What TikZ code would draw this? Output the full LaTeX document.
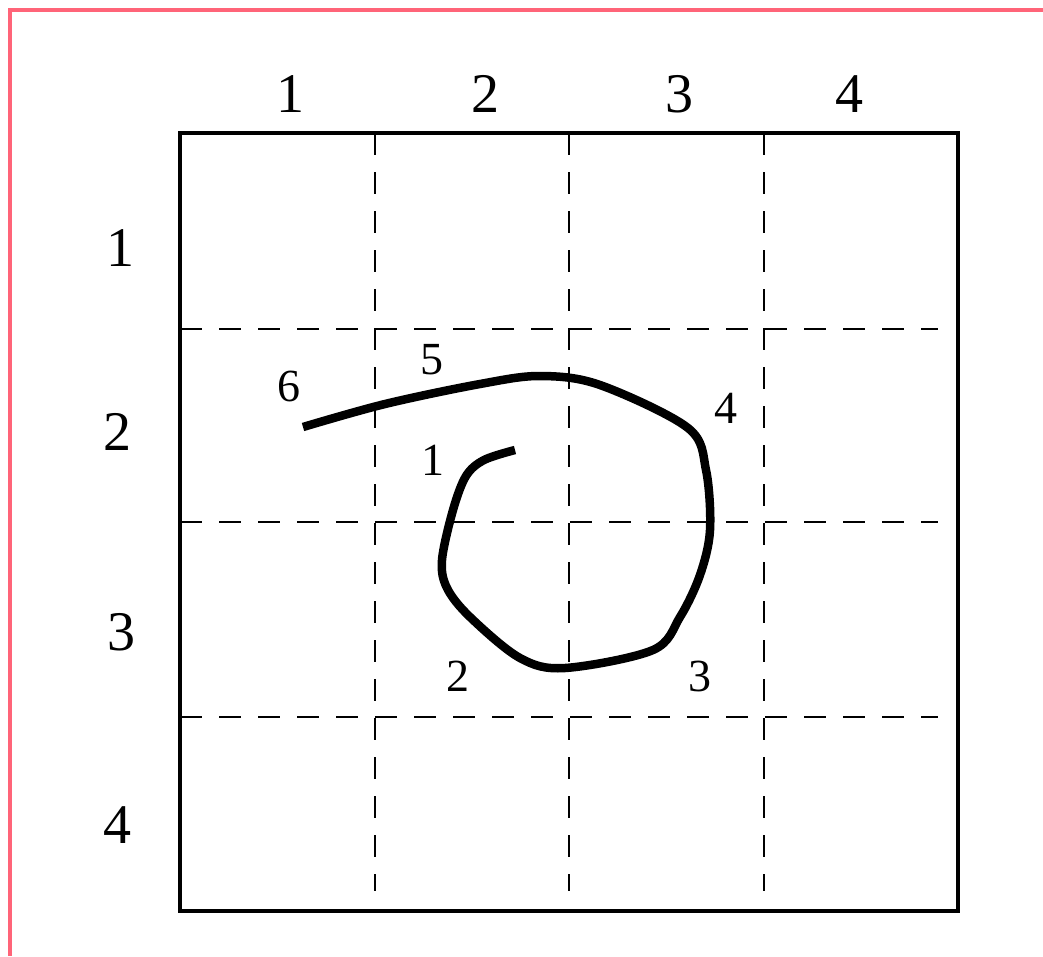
\documentclass[tikz,border=0pt]{standalone}
\usepackage{fontspec}
\setmainfont{Liberation Serif}
\begin{document}
\begin{tikzpicture}[x=1pt,y=-1pt,
  biglbl/.style={inner sep=0pt,font=\fontsize{56}{60}\selectfont},
  smalllbl/.style={inner sep=0pt,font=\fontsize{46}{50}\selectfont},
  gridline/.style={line width=2.5pt,dash pattern=on 22pt off 17pt},
  frameline/.style={line width=4.5pt},
  stroke/.style={line width=8.5pt,line cap=butt,line join=round}]
\useasboundingbox (0,0) rectangle (1043,956);
% pink page border
\draw[line width=3.5pt,color={rgb,255:red,255;green,100;blue,120}] (10,956) -- (10,10) -- (1043,10);
% grid
\foreach \v in {329,522,717} \draw[gridline] (180,\v) -- (938,\v);
\foreach \u in {375,569,764} \draw[gridline] (\u,133) -- (\u,891);
\draw[frameline] (180,133) rectangle (958,911);
% column labels
\node[biglbl] (c1) at (290,94) {1};
\node[biglbl] (c2) at (485,94) {2};
\node[biglbl] (c3) at (679,94) {3};
\node[biglbl] (c4) at (849,94) {4};
% row labels
\node[biglbl] (r1) at (120,248) {1};
\node[biglbl] (r2) at (117,432) {2};
\node[biglbl] (r3) at (121,632) {3};
\node[biglbl] (r4) at (117,825) {4};
% stroke
\draw[stroke] plot[smooth,tension=0.55] coordinates {
 (515,450) (484,460) (466,476) (453,510) (442,560)
 (447,588) (470,617) (520,658) (565,668) (653,650)
 (680,617) (700,575) (710,530) (706,470) (688,428)
 (600,385) (540,376) (480,384) (385,404) (303,427)};
% stroke labels
\node[smalllbl] (p6) at (289,386) {6};
\node[smalllbl] (p5) at (432,360) {5};
\node[smalllbl] (p1) at (433,460) {1};
\node[smalllbl] (p2) at (458,676) {2};
\node[smalllbl] (p3) at (700,676) {3};
\node[smalllbl] (p4) at (726,408) {4};
\end{tikzpicture}
\end{document}
